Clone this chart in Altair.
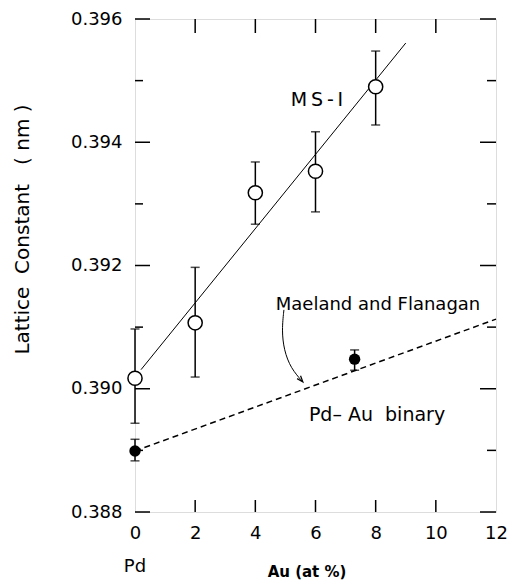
import altair as alt
import pandas as pd

# MS-I (open circles)
ms_x = [0, 2, 4, 6, 8]
ms_y = [0.39017, 0.39107, 0.39318, 0.39353, 0.3949]
ms_lo = [0.38944, 0.39019, 0.39267, 0.39287, 0.39428]
ms_hi = [0.39097, 0.39197, 0.39368, 0.39417, 0.39548]

# Pd-Au binary (filled circles)
bin_x = [0, 7.3]
bin_y = [0.38899, 0.39048]
bin_lo = [0.38883, 0.3903]
bin_hi = [0.38918, 0.39063]

# fitted MS-I line
fit_x = [0.2, 9.0]
fit_y = [0.39031, 0.39561]

# Maeland and Flanagan dashed line
mf_x = [0, 12]
mf_y = [0.38899, 0.39113]

# curved arrow (annotation)
arr_x = [4.95, 4.88, 4.95, 5.18, 5.58]
arr_y = [0.39128, 0.39095, 0.39063, 0.39033, 0.39011]

y_major = [0.388, 0.390, 0.392, 0.394, 0.396]
y_minor = [0.389, 0.391, 0.393, 0.395]
x_ticks = [0, 2, 4, 6, 8, 10, 12]
x_inner = [2, 4, 6, 8, 10]

W, H = 361, 493
FONT = "DejaVu Sans"
NB = "\u00a0"
TH = "\u2009"

xs = alt.Scale(domain=[0, 12], nice=False, zero=False)
ys = alt.Scale(domain=[0.388, 0.396], nice=False, zero=False)

ms = pd.DataFrame({"x": ms_x, "y": ms_y, "lo": ms_lo, "hi": ms_hi})
bn = pd.DataFrame({"x": bin_x, "y": bin_y, "lo": bin_lo, "hi": bin_hi})
fit = pd.DataFrame({"x": fit_x, "y": fit_y})
mf = pd.DataFrame({"x": mf_x, "y": mf_y})
arr = pd.DataFrame({"x": arr_x, "y": arr_y, "o": list(range(len(arr_x)))})

xax = alt.Axis(values=x_ticks, format="d", ticks=False, domain=False, grid=False,
               labelFontSize=18, labelFont=FONT, labelColor="black", labelPadding=12,
               labelFlush=False, title=None)
yax = alt.Axis(values=y_major, format=".3f", ticks=False, domain=False, grid=False,
               labelFontSize=18, labelFont=FONT, labelColor="black", labelPadding=13,
               labelFlush=False,
               title=f"Lattice{NB}{NB}Constant{NB}{NB}{NB}({NB}nm{NB})", titleFontSize=20,
               titleFont=FONT, titleFontWeight="normal", titleColor="black",
               titleX=-103, titleY=210)

X = alt.X("x:Q", scale=xs, axis=xax)
Y = alt.Y("y:Q", scale=ys, axis=yax)

fit_line = alt.Chart(fit).mark_line(color="black", strokeWidth=1).encode(x=X, y=Y)
mf_line = alt.Chart(mf).mark_line(color="black", strokeWidth=1.5, strokeDash=[6, 4]).encode(
    x=alt.X("x:Q", scale=xs), y=alt.Y("y:Q", scale=ys))

def errbars(df):
    base = alt.Chart(df)
    v = base.mark_rule(color="black", strokeWidth=1.5).encode(
        x=alt.X("x:Q", scale=xs), y=alt.Y("lo:Q", scale=ys), y2="hi:Q")
    t1 = base.mark_tick(color="black", orient="horizontal", size=9, thickness=1.5).encode(
        x=alt.X("x:Q", scale=xs), y=alt.Y("lo:Q", scale=ys))
    t2 = base.mark_tick(color="black", orient="horizontal", size=9, thickness=1.5).encode(
        x=alt.X("x:Q", scale=xs), y=alt.Y("hi:Q", scale=ys))
    return v + t1 + t2

ms_pts = alt.Chart(ms).mark_point(shape="circle", filled=True, fill="white", stroke="black",
                                  strokeWidth=1.5, size=200, opacity=1).encode(
    x=alt.X("x:Q", scale=xs), y=alt.Y("y:Q", scale=ys))
bn_pts = alt.Chart(bn).mark_point(shape="circle", filled=True, color="black", size=130,
                                  opacity=1).encode(
    x=alt.X("x:Q", scale=xs), y=alt.Y("y:Q", scale=ys))

arrow_line = alt.Chart(arr).mark_line(color="black", strokeWidth=1, interpolate="basis").encode(
    x=alt.X("x:Q", scale=xs), y=alt.Y("y:Q", scale=ys), order="o:O")
arrow_head = alt.Chart(arr.tail(1)).mark_point(
    shape="M-0.5,-1.4L0,0L0.5,-1.4", filled=False, stroke="black", strokeWidth=1.2,
    size=80, angle=320, opacity=1).encode(x=alt.X("x:Q", scale=xs), y=alt.Y("y:Q", scale=ys))

# inward ticks
ymaj = pd.DataFrame({"y": y_major})
ymin = pd.DataFrame({"y": y_minor})
xin = pd.DataFrame({"x": x_inner})
tk = dict(color="black", strokeWidth=1.5)
ticks = (
    alt.Chart(ymaj).mark_rule(**tk).encode(y=alt.Y("y:Q", scale=ys), x=alt.value(0), x2=alt.value(15))
    + alt.Chart(ymin).mark_rule(**tk).encode(y=alt.Y("y:Q", scale=ys), x=alt.value(0), x2=alt.value(8))
    + alt.Chart(ymaj).mark_rule(**tk).encode(y=alt.Y("y:Q", scale=ys), x=alt.value(W), x2=alt.value(W - 16))
    + alt.Chart(ymin).mark_rule(**tk).encode(y=alt.Y("y:Q", scale=ys), x=alt.value(W), x2=alt.value(W - 9))
    + alt.Chart(xin).mark_rule(**tk).encode(x=alt.X("x:Q", scale=xs), y=alt.value(0), y2=alt.value(14))
    + alt.Chart(xin).mark_rule(**tk).encode(x=alt.X("x:Q", scale=xs), y=alt.value(H), y2=alt.value(H - 12))
)

def txt(t, px, py, size, weight="normal"):
    return alt.Chart(pd.DataFrame({"t": [t]})).mark_text(
        font=FONT, fontSize=size, fontWeight=weight, color="black",
        align="center", baseline="middle").encode(
        text="t:N", x=alt.value(px), y=alt.value(py))

annots = (
    txt(f"M{TH}S{TH}-{TH}I", 317 - 135, 100 - 19, 19)
    + txt("Maeland and Flanagan", 378 - 135, 305 - 19, 18)
    + txt(f"Pd\u2013{NB}Au{NB}{NB}binary", 377 - 135, 415 - 19, 19)
    + txt("Pd", 0, 567 - 19, 18)
    + txt("Au (at %)", 307 - 135, 572 - 19, 15, "bold")
)

chart = alt.layer(
    fit_line, mf_line, errbars(ms), errbars(bn), ms_pts, bn_pts,
    arrow_line, arrow_head, ticks, annots
).properties(
    width=W, height=H,
    autosize=alt.AutoSizeParams(type="none"),
    padding={"left": 135, "top": 19, "right": 17, "bottom": 69},
).configure_view(stroke="black", strokeWidth=2).configure(background="white")

chart.save("out.html", embed_options={"renderer": "svg", "actions": False})
